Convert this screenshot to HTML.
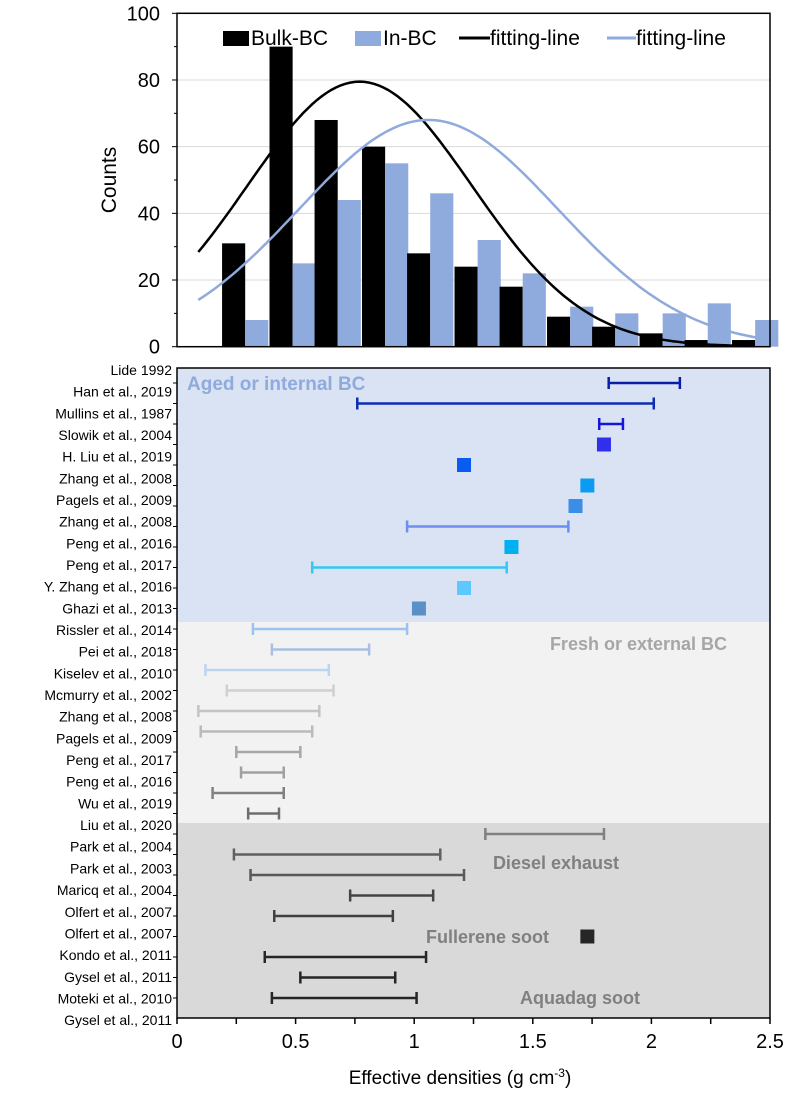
<!DOCTYPE html>
<html><head><meta charset="utf-8"><style>
body{margin:0;background:#fff;}
svg text{font-family:"Liberation Sans",Arial,sans-serif;}
</style></head><body>
<svg id="chart" width="792" height="1096" viewBox="0 0 792 1096" xmlns="http://www.w3.org/2000/svg"></svg>
<script>
// ---- histogram data ----
const binStarts = [0.19,0.39,0.58,0.78,0.97,1.17,1.36,1.56,1.75,1.95,2.14,2.34];
const bulkCounts = [31,90,68,60,28,24,18,9,6,4,2,2];
const inCounts = [8,25,44,55,46,32,22,12,10,10,13,8];
const countTicks = [0,20,40,60,80,100];
const bulkFit = [79.5,0.77,0.474]; // peak, mean, sigma
const inFit = [68,1.06,0.546];
// ---- density study data ----
const studies = ["Lide 1992","Han et al., 2019","Mullins et al., 1987","Slowik et al., 2004","H. Liu et al., 2019","Zhang et al., 2008","Pagels et al., 2009","Zhang et al., 2008","Peng et al., 2016","Peng et al., 2017","Y. Zhang et al., 2016","Ghazi et al., 2013","Rissler et al., 2014","Pei et al., 2018","Kiselev et al., 2010","Mcmurry et al., 2002","Zhang et al., 2008","Pagels et al., 2009","Peng et al., 2017","Peng et al., 2016","Wu et al., 2019","Liu et al., 2020","Park et al., 2004","Park et al., 2003","Maricq et al., 2004","Olfert et al., 2007","Olfert et al., 2007","Kondo et al., 2011","Gysel et al., 2011","Moteki et al., 2010","Gysel et al., 2011"];
const lowVals = [1.82,0.76,1.78,1.80,1.21,1.73,1.68,0.97,1.41,0.57,1.21,1.02,0.32,0.40,0.12,0.21,0.09,0.10,0.25,0.27,0.15,0.30,1.30,0.24,0.31,0.73,0.41,1.73,0.37,0.52,0.40];
const highVals = [2.12,2.01,1.88,1.80,1.21,1.73,1.68,1.65,1.41,1.39,1.21,1.02,0.97,0.81,0.64,0.66,0.60,0.57,0.52,0.45,0.45,0.43,1.80,1.11,1.21,1.08,0.91,1.73,1.05,0.92,1.01];
const colors = ["#0a1fa8","#0c2cb4","#1616d8","#3030ec","#0a5cf0","#0a9cf2","#3a8ee6","#6a8ff0","#00b0f0","#33c8f2","#5cc8ff","#5a8fc8","#9cc3f0","#a9bfe0","#bcd5ef","#d0d0d0","#c4c4c4","#bababa","#a6a6a6","#a0a0a0","#808080","#6e6e6e","#808080","#606060","#585858","#444444","#404040","#262626","#262626","#262626","#262626"];
const xTicks = [0,0.5,1,1.5,2,2.5];

const svg = document.getElementById('chart');
const NS = 'http://www.w3.org/2000/svg';
function mk(tag, attrs, parent){const e=document.createElementNS(NS,tag);for(const k in attrs)e.setAttribute(k,attrs[k]);(parent||svg).appendChild(e);return e;}
const X0=177, X1=770;
const x = v => X0 + v/2.5*(X1-X0);
const yTop0=346.7, yTop100=13.3;
const yc = v => yTop0 - v/100*(yTop0-yTop100);
const rowLabelY = i => 370 + i*21.67;
const rowMarkY = i => 383 + i*20.5;

// ---- top chart ----
countTicks.forEach(t=>{
  if(t>0&&t<100){const g=mk('line',{x1:X0,x2:X1,y1:yc(t),y2:yc(t),stroke:'#d9d9d9','stroke-width':1});
  
  }
  const tl=mk('text',{x:160,y:yc(t)+7,'text-anchor':'end','font-size':20,fill:'#000'});
  tl.textContent=t;
  
  
});
const bw = 0.0975;
binStarts.forEach((b,i)=>{
  const r1=mk('rect',{x:x(b),y:yc(bulkCounts[i]),width:x(b+bw)-x(b),height:yTop0-yc(bulkCounts[i]),fill:'#000'});
  
  
  const r2=mk('rect',{x:x(b+bw),y:yc(inCounts[i]),width:x(b+2*bw)-x(b+bw),height:yTop0-yc(inCounts[i]),fill:'#8faadc'});
  
  
});
function fitPath(p,x0,x1){let d='';for(let v=x0;v<=x1+1e-9;v+=0.02){const c=p[0]*Math.exp(-Math.pow(v-p[1],2)/(2*p[2]*p[2]));d+=(d?'L':'M')+x(v).toFixed(1)+','+yc(c).toFixed(1);}return d;}
const f1=mk('path',{d:fitPath(bulkFit,0.09,2.43),fill:'none',stroke:'#000','stroke-width':2.5});


const f2=mk('path',{d:fitPath(inFit,0.09,2.5),fill:'none',stroke:'#8faadc','stroke-width':2.5});


const fr=mk('rect',{x:X0,y:yTop100,width:X1-X0,height:yTop0-yTop100,fill:'none',stroke:'#000','stroke-width':1.5});


countTicks.forEach(t=>{mk('line',{x1:X0-5,x2:X0,y1:yc(t),y2:yc(t),stroke:'#000'});});
for(let t=10;t<100;t+=20){mk('line',{x1:X0-3,x2:X0,y1:yc(t),y2:yc(t),stroke:'#000'});}
const yt=mk('text',{x:0,y:0,transform:'translate(116,180) rotate(-90)','text-anchor':'middle','font-size':21});
yt.textContent='Counts';


// legend
const lg=mk('g',{});


mk('rect',{x:223,y:31,width:26,height:15,fill:'#000'},lg);
mk('text',{x:251,y:45,'font-size':21},lg).textContent='Bulk-BC';
mk('rect',{x:355,y:31,width:26,height:15,fill:'#8faadc'},lg);
mk('text',{x:383,y:45,'font-size':21},lg).textContent='In-BC';
mk('line',{x1:459,x2:490,y1:38,y2:38,stroke:'#000','stroke-width':3},lg);
mk('text',{x:490,y:45,'font-size':21},lg).textContent='fitting-line';
mk('line',{x1:607,x2:636,y1:38,y2:38,stroke:'#8faadc','stroke-width':3},lg);
mk('text',{x:636,y:45,'font-size':21},lg).textContent='fitting-line';

// ---- bottom chart ----
const B0=368, B1=1018;
const bg1=mk('rect',{x:X0,y:B0,width:X1-X0,height:622-B0,fill:'#dae3f3'});


const bg2=mk('rect',{x:X0,y:622,width:X1-X0,height:823-622,fill:'#f2f2f2'});


const bg3=mk('rect',{x:X0,y:823,width:X1-X0,height:B1-823,fill:'#d9d9d9'});


const regionLabels=[["Aged or internal BC",187,390,'#8faadc',19,'start'],["Fresh or external BC",727,650,'#a6a6a6',18,'end'],["Diesel exhaust",619,869,'#808080',18,'end'],["Fullerene soot",549,943,'#808080',18,'end'],["Aquadag soot",640,1004,'#808080',18,'end']];
regionLabels.forEach(r=>{const t=mk('text',{x:r[1],y:r[2],fill:r[3],'font-size':r[4],'font-weight':'bold','text-anchor':r[5]});t.textContent=r[0];

});
studies.forEach((s,i)=>{
  const t=mk('text',{x:172,y:rowLabelY(i)+5,'text-anchor':'end','font-size':14});
  t.textContent=s;
  
  
  mk('line',{x1:X0-4,x2:X0,y1:rowMarkY(i),y2:rowMarkY(i),stroke:'#000'});
  const y=rowMarkY(i), c=colors[i];
  if(highVals[i]-lowVals[i]<0.01){
    const sq=mk('rect',{x:x(lowVals[i])-7,y:y-7,width:14,height:14,fill:c});
    
    
  } else {
    const g=mk('g',{stroke:c,'stroke-width':2.5});
    
    
    mk('line',{x1:x(lowVals[i]),x2:x(highVals[i]),y1:y,y2:y},g);
    mk('line',{x1:x(lowVals[i]),x2:x(lowVals[i]),y1:y-6,y2:y+6},g);
    mk('line',{x1:x(highVals[i]),x2:x(highVals[i]),y1:y-6,y2:y+6},g);
  }
});
const bf=mk('rect',{x:X0,y:B0,width:X1-X0,height:B1-B0,fill:'none',stroke:'#000','stroke-width':1.5});


for(let v=0;v<=2.5001;v+=0.25){mk('line',{x1:x(v),x2:x(v),y1:B1,y2:B1+6,stroke:'#000','stroke-width':1.5});}
xTicks.forEach(v=>{const t=mk('text',{x:x(v),y:1048,'text-anchor':'middle','font-size':20});t.textContent=v;

});
const xt=mk('text',{x:460,y:1084,'text-anchor':'middle','font-size':19});
xt.innerHTML='Effective densities (g cm<tspan dy="-7" font-size="12">-3</tspan><tspan dy="7">)</tspan>';


</script>
</body></html>
